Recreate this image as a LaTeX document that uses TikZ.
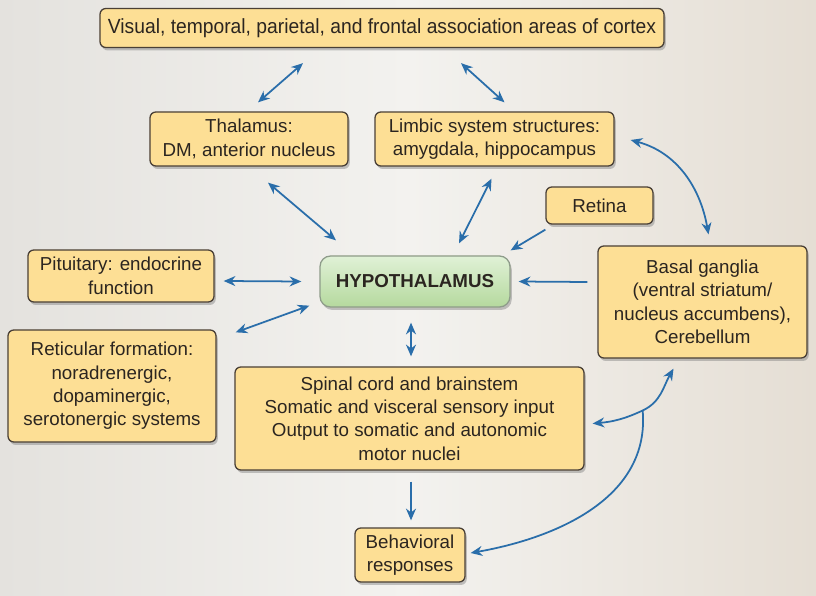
\documentclass[tikz,border=0pt]{standalone}
\usepackage{fontspec}
\setmainfont{Liberation Sans}
\usepackage{graphicx}
\usetikzlibrary{positioning,arrows.meta,shadows,calc}
\definecolor{ink}      {HTML}{2B2520}
\definecolor{frame}    {HTML}{4A4036}
\definecolor{butter}   {HTML}{FDDF95}
\definecolor{leaftop}  {HTML}{E0F1D6}
\definecolor{leafbot}  {HTML}{B5D99E}
\definecolor{leafrim}  {HTML}{8E9C8A}
\definecolor{nerve}    {HTML}{2A6EAA}
\definecolor{bgleft}   {HTML}{E4E2DE}
\definecolor{bgmid}    {HTML}{F3F2EF}
\definecolor{bgright}  {HTML}{E5DED4}
\tikzset{
  every node/.style={font=\fontsize{16}{20}\selectfont, text=ink},
  % --- nodes
  box/.style = {rounded corners=5pt, draw=frame, line width=1.1pt, fill=butter, align=center,
                inner sep=3pt, drop shadow={shadow xshift=1.5pt, shadow yshift=-2.5pt, opacity=0.45}},
  hub/.style = {box, rounded corners=9pt, draw=leafrim, top color=leaftop, bottom color=leafbot,
                font=\fontsize{16}{20}\selectfont\bfseries},
  % --- edges
  e/.style   = {-{Stealth[length=10pt,width=8.5pt]}, line width=1.5pt, draw=nerve},
  ee/.style  = {e, {Stealth[length=10pt,width=8.5pt]}-{Stealth[length=10pt,width=8.5pt]}},
}
\begin{document}
\begin{tikzpicture}[x=0.03cm, y=-0.03cm]
  \shade[left color=bgleft, right color=bgright, middle color=bgmid] (0,0) rectangle (816,596);
  \useasboundingbox (0,0) rectangle (816,596);

  \node[box, minimum width=16.92cm, minimum height=1.17cm] (cortex) at (382,28)
    {\fontsize{17.5}{20}\selectfont\scalebox{0.94}[1]{Visual, temporal, parietal, and frontal association areas of cortex}};
  \node[box, minimum width=5.94cm, minimum height=1.62cm] (thal) at (249,139) {Thalamus:\\DM, anterior nucleus};
  \node[box, minimum width=7.17cm, minimum height=1.62cm] (limbic) at (494.5,139) {Limbic system structures:\\amygdala, hippocampus};
  \node[box, minimum width=3.21cm, minimum height=1.11cm] (retina) at (599.5,205.5) {Retina};
  \node[hub, minimum width=5.7cm, minimum height=1.53cm] (hypo) at (415,281.5) {HYPOTHALAMUS};
  \node[box, minimum width=5.58cm, minimum height=1.56cm] (pit) at (121,276) {Pituitary: endocrine\\function};
  \node[box, minimum width=6.27cm, minimum height=3.36cm] (basal) at (702.5,302)
    {Basal ganglia\\(ventral striatum/\\nucleus accumbens),\\Cerebellum};
  \node[box, minimum width=6.24cm, minimum height=3.36cm] (retic) at (112,386)
    {Reticular formation:\\noradrenergic,\\dopaminergic,\\serotonergic systems};
  \node[box, minimum width=10.47cm, minimum height=3.09cm] (spinal) at (409.5,418.5)
    {Spinal cord and brainstem\\Somatic and visceral sensory input\\Output to somatic and autonomic\\motor nuclei};
  \node[box, minimum width=3.3cm, minimum height=1.62cm] (behav) at (410,555) {Behavioral\\responses};

  % straight links
  \draw[ee] ([shift={(-79,15)}]cortex.south) -- ([shift={(9,-9)}]thal.north);
  \draw[ee] ([shift={(79,15)}]cortex.south) -- ([shift={(10,-9)}]limbic.north);
  \draw[ee] ([shift={(19,16)}]thal.south) -- ([shift={(-79,-15)}]hypo.north);
  \draw[ee] ([shift={(-3,12)}]limbic.south) -- ([shift={(44,-12)}]hypo.north);
  \draw[e] ([shift={(0,5)}]retina.south west) -- ([shift={(0,-5)}]hypo.north east);
  \draw[e] ([shift={(-10,-20)}]basal.west) -- ([shift={(8,0)}]hypo.east);
  \draw[ee] ([shift={(9,5)}]pit.east) -- ([shift={(-18,0)}]hypo.west);
  \draw[ee] ([shift={(19,3)}]retic.north east) -- ([shift={(-10,-2)}]hypo.south west);
  \draw[ee] ([shift={(-4,15)}]hypo.south) -- ([shift={(1.5,-10)}]spinal.north);
  \draw[e] ([shift={(1.5,11)}]spinal.south) -- ([shift={(1,-7)}]behav.north);

  % curved links
  \draw[ee] ([shift={(16,1)}]limbic.east) to[out=-15,in=100] ([shift={(6,-11)}]basal.north);
  \coordinate (jn) at ([shift={(58,-8)}]spinal.east);
  \draw[ee] ([shift={(8,5)}]spinal.east) to[out=5,in=205] (jn) to[out=25,in=240] ([shift={(-29,10)}]basal.south);
  \draw[e] (jn) to[out=-85,in=10] ([shift={(5,-2)}]behav.east);
\end{tikzpicture}
\end{document}
